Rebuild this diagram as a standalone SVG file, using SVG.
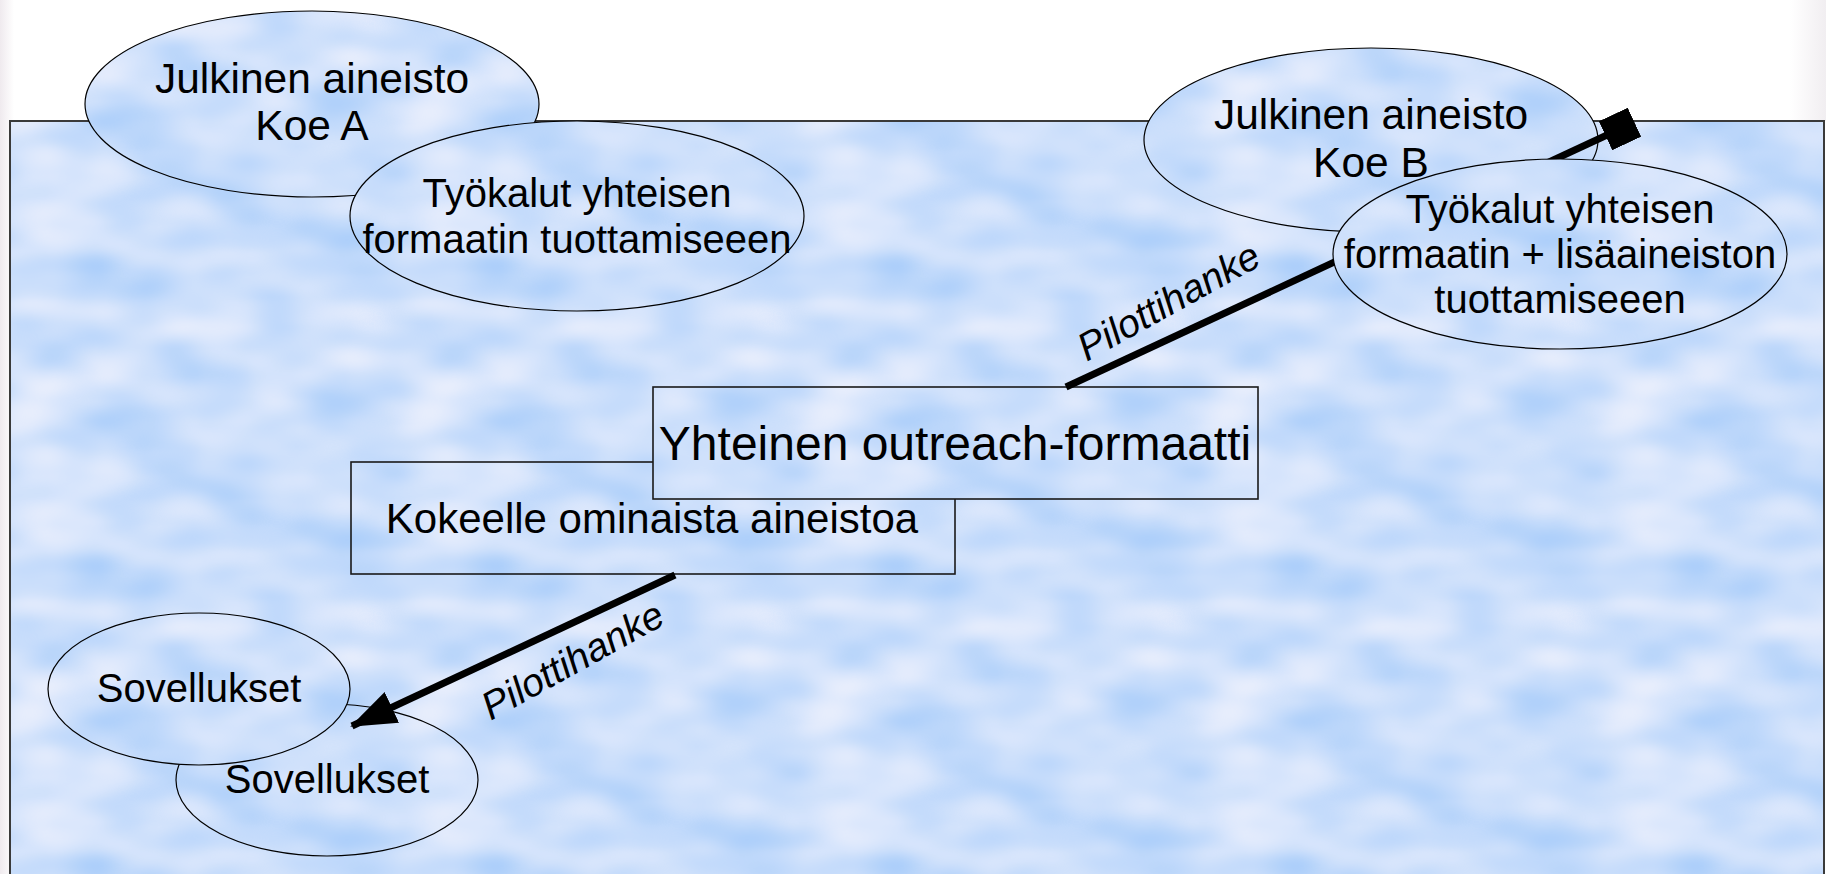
<svg xmlns="http://www.w3.org/2000/svg" width="1826" height="874" viewBox="0 0 1826 874">
<defs>
<filter id="noise" x="0" y="0" width="400" height="300" filterUnits="userSpaceOnUse" primitiveUnits="userSpaceOnUse" color-interpolation-filters="sRGB">
<feTurbulence type="fractalNoise" baseFrequency="0.009 0.02" numOctaves="2" seed="7" stitchTiles="stitch"/>
<feColorMatrix type="matrix" values="0.42 0 0 0 0.59  0.22 0 0 0 0.765  0.02 0 0 0 0.975  0 0 0 0 1"/>
</filter>
<pattern id="cloud" patternUnits="userSpaceOnUse" width="400" height="300">
<rect width="400" height="300" filter="url(#noise)"/>
</pattern>
<marker id="arrow" markerUnits="userSpaceOnUse" markerWidth="50" markerHeight="40" refX="44" refY="17" orient="auto" viewBox="0 0 50 34">
<path d="M0,0 L46,17 L0,34 Z" fill="#000"/>
</marker>
<marker id="square" markerUnits="userSpaceOnUse" markerWidth="32" markerHeight="32" refX="15" refY="15" orient="auto" viewBox="0 0 30 30">
<rect width="30" height="30" fill="#000"/>
</marker>
<linearGradient id="edgeL" x1="0" x2="1" y1="0" y2="0">
<stop offset="0" stop-color="#efeaee"/>
<stop offset="1" stop-color="#ffffff"/>
</linearGradient>
<linearGradient id="edgeR" x1="0" x2="1" y1="0" y2="0">
<stop offset="0" stop-color="#ffffff"/>
<stop offset="1" stop-color="#f1eef1"/>
</linearGradient>
</defs>
<style>
.shape{fill:url(#cloud);stroke:#000;stroke-width:1.2}
.box{fill:url(#cloud);stroke:#1a1a1a;stroke-width:1.6}
.t{font-family:"Liberation Sans",Arial,sans-serif;fill:#000;text-anchor:middle}
.j{font-size:42.5px}
.w{font-size:40px}
.lbl{font-family:"Liberation Sans",Arial,sans-serif;font-style:italic;font-size:39px;fill:#000;text-anchor:middle}
.conn{stroke:#000;stroke-width:7;fill:none}
</style>
<rect width="1826" height="874" fill="#fff"/>
<rect x="0" y="0" width="14" height="874" fill="url(#edgeL)"/>
<rect x="1790" y="0" width="36" height="121" fill="url(#edgeR)"/>
<g id="background">
<rect x="10" y="121" width="1814" height="760" fill="url(#cloud)" stroke="#3a3a3a" stroke-width="2"/>
</g>
<g id="sovellukset2">
<ellipse class="shape" cx="327" cy="780" rx="151" ry="76"/>
<text class="t" x="327" y="793" font-size="40">Sovellukset</text>
</g>
<g id="sovellukset1">
<ellipse class="shape" cx="199" cy="689" rx="151" ry="76"/>
<text class="t" x="199" y="702" font-size="40">Sovellukset</text>
</g>
<g id="julkinen-a">
<ellipse class="shape" cx="312" cy="104" rx="227" ry="93"/>
<text class="t j" x="312" y="93">Julkinen aineisto</text>
<text class="t j" x="312" y="140">Koe A</text>
</g>
<g id="tyokalut-a">
<ellipse class="shape" cx="577" cy="216" rx="227" ry="95"/>
<text class="t w" x="577" y="207">Työkalut yhteisen</text>
<text class="t w" x="577" y="253">formaatin tuottamiseeen</text>
</g>
<g id="kokeelle">
<rect class="box" x="351" y="462" width="604" height="112"/>
<text class="t" x="652" y="533" font-size="42">Kokeelle ominaista aineistoa</text>
</g>
<g id="yhteinen">
<rect class="box" x="653" y="387" width="605" height="112"/>
<text class="t" x="955" y="460" font-size="48">Yhteinen outreach-formaatti</text>
</g>
<g id="julkinen-b">
<ellipse class="shape" cx="1371" cy="140" rx="227" ry="92"/>
<text class="t j" x="1371" y="129">Julkinen aineisto</text>
<text class="t j" x="1371" y="177">Koe B</text>
</g>
<g id="connectors">
<line class="conn" x1="1066" y1="387" x2="1620" y2="129" marker-end="url(#square)"/>
<text class="lbl" transform="translate(1175,313) rotate(-29)">Pilottihanke</text>
<line class="conn" x1="675" y1="575" x2="352" y2="726" marker-end="url(#arrow)"/>
<text class="lbl" transform="translate(579,672) rotate(-29)">Pilottihanke</text>
</g>
<g id="tyokalut-b">
<ellipse class="shape" cx="1560" cy="254" rx="227" ry="95"/>
<text class="t w" x="1560" y="223">Työkalut yhteisen</text>
<text class="t w" x="1560" y="268">formaatin + lisäaineiston</text>
<text class="t w" x="1560" y="313">tuottamiseeen</text>
</g>
</svg>
